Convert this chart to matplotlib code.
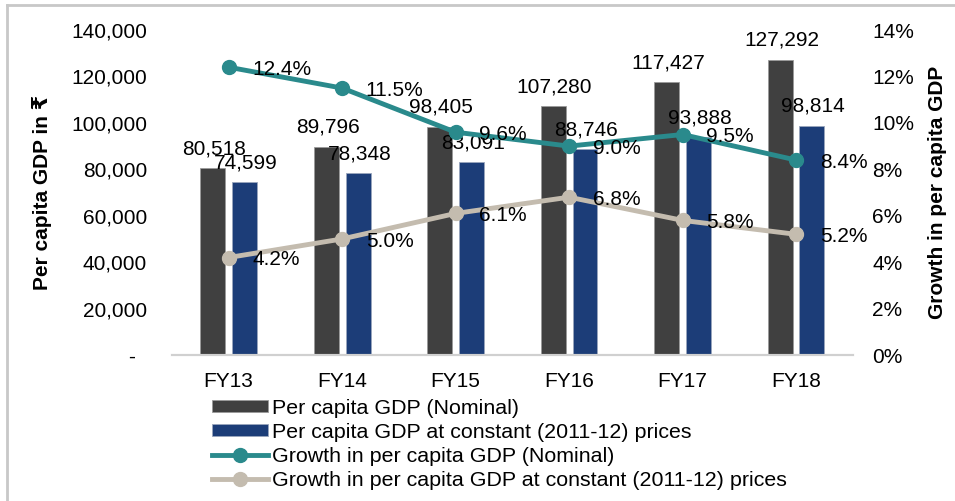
import matplotlib
matplotlib.use("Agg")
import matplotlib.pyplot as plt
from matplotlib.lines import Line2D
from matplotlib.ticker import FuncFormatter
import numpy as np

plt.rcParams["font.family"] = ["Liberation Sans", "DejaVu Sans"]

# ---- data ------------------------------------------------------------------ #
years = ["FY13", "FY14", "FY15", "FY16", "FY17", "FY18"]
gdp_nominal = [80518, 89796, 98405, 107280, 117427, 127292]
gdp_constant = [74599, 78348, 83091, 88746, 93888, 98814]
growth_nominal = [12.4, 11.5, 9.6, 9.0, 9.5, 8.4]
growth_constant = [4.2, 5.0, 6.1, 6.8, 5.8, 5.2]

COL = {"nominal": "#404040", "constant": "#1c3d78",
       "g_nominal": "#2a8a8c", "g_constant": "#c4bcaf"}
FS = 15

fig = plt.figure(figsize=(9.55, 5.01), dpi=100)
ax = fig.add_axes([0.180, 0.2914, 0.713, 0.6486])
ax2 = ax.twinx()

x = np.arange(len(years))
w, off = 0.22, 0.14
b1 = ax.bar(x - off, gdp_nominal, w, color=COL["nominal"], edgecolor="#9a9a9a",
            linewidth=0.6, label="Per capita GDP (Nominal)")
b2 = ax.bar(x + off, gdp_constant, w, color=COL["constant"], edgecolor="#9aa6bd",
            linewidth=0.6, label="Per capita GDP at constant (2011-12) prices")

for xi, v in zip(x - off, gdp_nominal):
    ax.annotate(f"{v:,}", (xi, v), xytext=(1, 7), textcoords="offset points",
                ha="center", va="bottom", fontsize=FS)
for xi, v in zip(x + off, gdp_constant):
    ax.annotate(f"{v:,}", (xi, v), xytext=(1, 7), textcoords="offset points",
                ha="center", va="bottom", fontsize=FS)

l1, = ax2.plot(x, growth_nominal, "-o", color=COL["g_nominal"], lw=3.5, ms=10,
               label="Growth in per capita GDP (Nominal)")
l2, = ax2.plot(x, growth_constant, "-o", color=COL["g_constant"], lw=3.5, ms=10,
               label="Growth in per capita GDP at constant (2011-12) prices")
for xs, ys in ((x, growth_nominal), (x, growth_constant)):
    for xi, v in zip(xs, ys):
        ax2.annotate(f"{v:.1f}%", (xi, v), xytext=(17, -1.5), textcoords="offset points",
                     ha="left", va="center", fontsize=FS)

ax.set_xlim(-0.5, len(years) - 0.5)
ax.set_ylim(0, 140000)
ax.set_yticks(np.arange(0, 140001, 20000))
ax.yaxis.set_major_formatter(FuncFormatter(lambda v, p: "-  " if v == 0 else f"{int(v):,}"))
ax2.set_ylim(0, 14)
ax2.set_yticks(np.arange(0, 15, 2))
ax2.yaxis.set_major_formatter(FuncFormatter(lambda v, p: f"{int(v)}%"))

ax.set_xticks(x)
ax.set_xticklabels(years)
ax.tick_params(axis="x", length=0, pad=12, labelsize=FS)
ax.tick_params(axis="y", length=0, pad=18, labelsize=FS)
ax2.tick_params(axis="y", length=0, pad=14, labelsize=FS)

for a in (ax, ax2):
    for s in ("top", "right", "left"):
        a.spines[s].set_visible(False)
    a.spines["bottom"].set_color("#d0d0d0")
    a.spines["bottom"].set_linewidth(1.5)

ax.set_ylabel("Per capita GDP in ₹", fontsize=FS, fontweight="bold")
ax.yaxis.set_label_coords(-0.176, 0.5)
ax2.set_ylabel("Growth in per capita GDP", fontsize=FS, fontweight="bold")
ax2.yaxis.set_label_coords(1.110, 0.5)

fig.legend(handles=[b1, b2, l1, l2], loc="upper left", bbox_to_anchor=(0.222, 0.204),
           frameon=False, fontsize=15.4, handlelength=2.6, handleheight=0.5,
           handletextpad=0.2, labelspacing=0.24, borderpad=0, borderaxespad=0)

# outer border, as in the source slide
fig.add_artist(Line2D([0.007, 0.007], [0.0, 0.99], color="#c8c8c8", lw=2,
                      transform=fig.transFigure))
fig.add_artist(Line2D([0.007, 1.0], [0.99, 0.99], color="#c8c8c8", lw=2,
                      transform=fig.transFigure))

fig.savefig("out.png", dpi=100)
